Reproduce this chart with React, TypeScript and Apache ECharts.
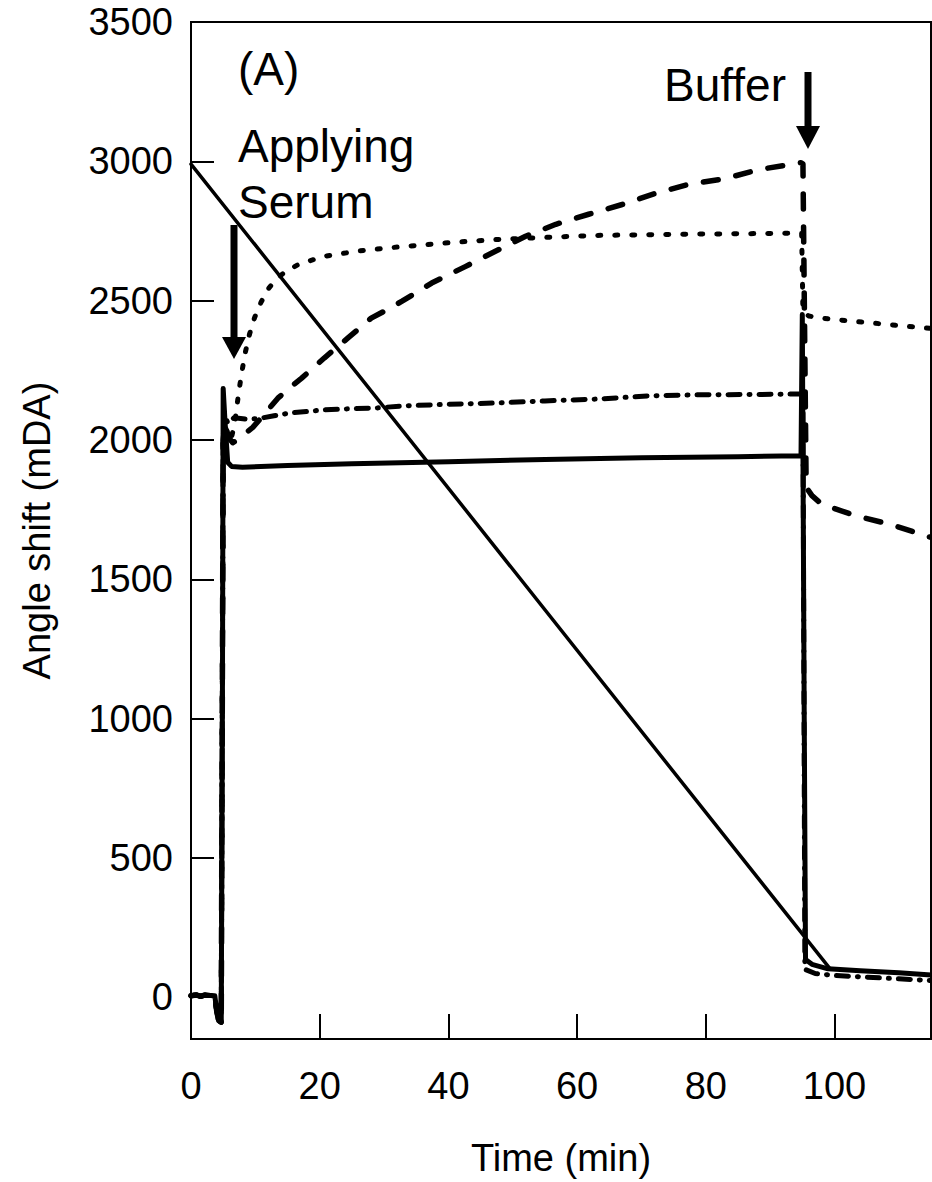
import React, { useEffect, useRef } from "react";
import * as echarts from "echarts";

const FONT = '"Liberation Sans", Arial, Helvetica, sans-serif';

// Shared pre-injection baseline (time min, angle shift mDA)
const baseline: number[][] = [
  [0, 5], [0.8, 8], [1.5, 3], [2.2, 8], [3, 6], [3.7, 5], [4.0, -50], [4.3, -85], [4.7, -90],
];

const solidSeries: number[][] = [
  ...baseline,
  [4.9, 1200], [5.0, 2185], [5.3, 2060], [5.7, 1920], [6.3, 1905], [8, 1902], [15, 1908],
  [25, 1915], [40, 1922], [55, 1930], [70, 1936], [85, 1940], [94.8, 1943], [95.0, 2450],
  [95.3, 1000], [95.5, 135], [96.5, 118], [99, 102], [104, 95], [110, 88], [115, 80],
];

const dottedSeries: number[][] = [
  ...baseline,
  [5.0, 2000], [5.2, 2070], [5.6, 2020], [6.2, 2000], [6.8, 2060], [7.3, 2150], [7.8, 2230],
  [8.4, 2310], [9.1, 2380], [9.9, 2440], [10.9, 2495], [12.1, 2545], [13.3, 2578], [14.6, 2603],
  [16.8, 2631], [20.7, 2659], [26, 2678], [31, 2690], [40, 2708], [48, 2720], [56, 2728],
  [63, 2734], [75, 2738], [85, 2740], [94.9, 2742], [95.1, 2460], [96, 2445], [98, 2437],
  [102, 2428], [108, 2415], [115, 2400],
];

const dashedSeries: number[][] = [
  ...baseline,
  [5.0, 2000], [5.3, 2060], [5.8, 2010], [6.5, 1990], [7.5, 2005], [8.5, 2025], [9.6, 2045],
  [11.5, 2095], [13.5, 2150], [15.5, 2190], [17.2, 2222], [20.7, 2294], [24.4, 2366], [28, 2437],
  [30.6, 2469], [32.8, 2498], [37.4, 2563], [42.7, 2623], [47.3, 2677], [52, 2731], [56.7, 2774],
  [61.8, 2810], [67, 2845], [72.2, 2885], [77.3, 2917], [83, 2938], [88.2, 2970], [94.8, 2995],
  [95.1, 2990], [95.6, 1830], [96.5, 1800], [98, 1770], [103, 1730], [109, 1695], [115, 1650],
];

const dashDotSeries: number[][] = [
  ...baseline,
  [5.0, 2000], [5.2, 2100], [5.7, 2060], [6.7, 2080], [8.5, 2075], [10.4, 2076], [12.9, 2087],
  [15.5, 2097], [20.7, 2108], [24.8, 2112], [29, 2115], [32.8, 2122], [40, 2128], [47.8, 2133],
  [55, 2140], [63.4, 2147], [71, 2158], [79, 2162], [87, 2163], [94.9, 2165], [95.1, 2160],
  [95.4, 100], [97, 85], [100, 78], [105, 72], [110, 66], [115, 60],
];

const diagonalSeries: number[][] = [
  [0, 2990], [99.2, 105],
];

const xTickValues = [0, 20, 40, 60, 80, 100];
const yTickValues = [0, 500, 1000, 1500, 2000, 2500, 3000, 3500];

export default function App() {
  const ref = useRef<HTMLDivElement>(null);

  useEffect(() => {
    if (!ref.current) return;
    const chart = echarts.init(ref.current, null, { renderer: "svg" });

    const lineBase = (data: number[][], type: any, width: number, z: number) => ({
      type: "line",
      data,
      showSymbol: false,
      symbol: "none",
      z,
      lineStyle: { color: "#000", width, type, cap: "round", join: "round" },
    });

    const plain = (v: number) => String(v);

    chart.setOption({
      animation: false,
      backgroundColor: "#fff",
      grid: {
        left: 191,
        top: 22,
        right: 1,
        bottom: 139,
        show: true,
        borderColor: "#000",
        borderWidth: 2,
        backgroundColor: "transparent",
      },
      xAxis: {
        type: "value",
        min: 0,
        max: 115,
        name: "Time (min)",
        nameLocation: "middle",
        nameGap: 100,
        nameTextStyle: { fontFamily: FONT, fontSize: 38, color: "#000" },
        axisLine: { show: true, onZero: false, lineStyle: { color: "#000", width: 2 } },
        axisTick: { show: true, inside: true, length: 25, customValues: xTickValues, lineStyle: { color: "#000", width: 2 } },
        axisLabel: { customValues: xTickValues, formatter: plain, fontFamily: FONT, fontSize: 38, color: "#000", margin: 28 },
        splitLine: { show: false },
      },
      yAxis: {
        type: "value",
        min: -150,
        max: 3500,
        name: "Angle shift (mDA)",
        nameLocation: "middle",
        nameGap: 135,
        nameTextStyle: { fontFamily: FONT, fontSize: 38, color: "#000" },
        axisLine: { show: true, onZero: false, lineStyle: { color: "#000", width: 2 } },
        axisTick: { show: true, inside: true, length: 23, customValues: yTickValues, lineStyle: { color: "#000", width: 2 } },
        axisLabel: { customValues: yTickValues, formatter: plain, fontFamily: FONT, fontSize: 38, color: "#000", margin: 18 },
        splitLine: { show: false },
      },
      series: [
        lineBase(dashedSeries, [15, 18], 5.5, 2),
        lineBase(dottedSeries, [3, 14], 5, 2),
        lineBase(dashDotSeries, [12, 9, 1, 9], 5, 2),
        lineBase(solidSeries, "solid", 5, 3),
        lineBase(diagonalSeries, "solid", 3.5, 4),
      ],
      graphic: [
        { type: "text", x: 238, y: 69, style: { text: "(A)", fontFamily: FONT, fontSize: 46, fill: "#000", textAlign: "left", textVerticalAlign: "middle" } },
        { type: "text", x: 238, y: 146, style: { text: "Applying", fontFamily: FONT, fontSize: 46, fill: "#000", textAlign: "left", textVerticalAlign: "middle" } },
        { type: "text", x: 238, y: 202, style: { text: "Serum", fontFamily: FONT, fontSize: 46, fill: "#000", textAlign: "left", textVerticalAlign: "middle" } },
        { type: "text", x: 786, y: 85, style: { text: "Buffer", fontFamily: FONT, fontSize: 46, fill: "#000", textAlign: "right", textVerticalAlign: "middle" } },
        { type: "rect", shape: { x: 230.5, y: 225, width: 7, height: 114 }, style: { fill: "#000" }, z: 10 },
        { type: "polygon", shape: { points: [[222, 337], [246, 337], [234, 359]] }, style: { fill: "#000" }, z: 10 },
        { type: "rect", shape: { x: 804.5, y: 72, width: 7, height: 56 }, style: { fill: "#000" }, z: 10 },
        { type: "polygon", shape: { points: [[796, 126], [820, 126], [808, 149]] }, style: { fill: "#000" }, z: 10 },
      ],
    });

    return () => chart.dispose();
  }, []);

  return (
    <div
      ref={ref}
      style={{ position: "fixed", left: 0, top: 0, width: 932, height: 1182, background: "#fff" }}
    />
  );
}
